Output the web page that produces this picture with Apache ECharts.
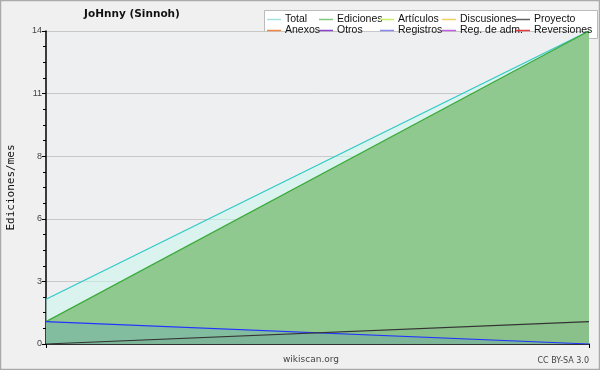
<!DOCTYPE html>
<html>
<head>
<meta charset="utf-8">
<script src="https://cdn.jsdelivr.net/npm/echarts@6/dist/echarts.min.js"></script>
<style>
html, body { margin: 0; padding: 0; }
#chart { width: 600px; height: 370px; }
</style>
</head>
<body>
<div id="chart"></div>
<script>
// meses (sin etiqueta en el eje)
var months = ['Mes 1', 'Mes 2'];
// ediciones por mes
var total = [2, 14];
var ediciones = [1, 14];
var registros = [1, 0];
var proyecto = [0, 1];
var yTicks = [0, 3, 6, 8, 11, 14];

var names = ['Total', 'Ediciones', 'Artículos', 'Discusiones', 'Proyecto',
             'Anexos', 'Otros', 'Registros', 'Reg. de adm.', 'Reversiones'];
var legendColors = ['#a4e2de', '#80c880', '#c8ee66', '#f0d060', '#606060',
                    '#f08848', '#8844cc', '#8888ee', '#c060dd', '#e03a3a'];

var chart = echarts.init(document.getElementById('chart'));

function legendCol(i, left) {
	return {
		orient: 'vertical',
		left: left,
		top: 14,
		padding: 0,
		itemWidth: 14,
		itemHeight: 1.5,
		itemGap: 0,
		icon: 'rect',
		selectedMode: false,
		textStyle: { fontSize: 10.5, lineHeight: 10.5, height: 10.5, color: '#111', fontFamily: 'Liberation Sans', padding: [0, 0, 0, -1] },
		data: [
			{ name: names[i], itemStyle: { color: legendColors[i] } },
			{ name: names[i + 5], itemStyle: { color: legendColors[i + 5] } }
		]
	};
}

var series = [{
		name: 'Total',
		type: 'line',
		data: total,
		showSymbol: false,
		itemStyle: { color: legendColors[0] },
		lineStyle: { color: '#30c8c8', width: 1.2 },
		areaStyle: { color: 'rgba(202,245,235,0.55)', opacity: 1 },
		z: 2
	}, {
		name: 'Ediciones',
		type: 'line',
		data: ediciones,
		showSymbol: false,
		itemStyle: { color: legendColors[1] },
		lineStyle: { color: '#3aaa3a', width: 1.2 },
		areaStyle: { color: '#90c990', opacity: 1 },
		z: 3
	}, {
		name: 'Registros',
		type: 'line',
		data: registros,
		showSymbol: false,
		itemStyle: { color: legendColors[7] },
		lineStyle: { color: '#2233ff', width: 1.2 },
		areaStyle: { color: 'rgba(60,120,255,0.15)', opacity: 1 },
		z: 4
	}, {
		name: 'Proyecto',
		type: 'line',
		data: proyecto,
		showSymbol: false,
		itemStyle: { color: legendColors[4] },
		lineStyle: { color: '#333333', width: 1.2 },
		areaStyle: { color: 'rgba(0,0,0,0.04)', opacity: 1 },
		z: 4
	}];
// series sin datos, solo para la leyenda
names.forEach(function (n, i) {
	if (['Total', 'Ediciones', 'Registros', 'Proyecto'].indexOf(n) < 0) {
		series.push({ name: n, type: 'line', data: [], itemStyle: { color: legendColors[i] } });
	}
});

var option = {
	backgroundColor: '#f0f0f0',
	animation: false,
	title: {
		text: 'JoHnny (Sinnoh)',
		left: 132,
		textAlign: 'center',
		top: 9,
		padding: 0,
		textStyle: { fontSize: 10.5, fontWeight: 'bold', color: '#111', fontFamily: 'DejaVu Sans' }
	},
	legend: [legendCol(0, 267), legendCol(1, 319), legendCol(2, 380), legendCol(3, 442), legendCol(4, 516)],
	grid: {
		left: 46,
		right: 11,
		top: 31,
		bottom: 26,
		outerBoundsMode: 'none',
		containLabel: false,
		show: true,
		backgroundColor: '#eeeff1',
		borderWidth: 0
	},
	xAxis: {
		type: 'category',
		data: months,
		boundaryGap: false,
		axisLine: { lineStyle: { color: '#000', width: 1.5 } },
		axisTick: { show: true, length: 4, lineStyle: { color: '#000' } },
		axisLabel: { show: false },
		splitLine: { show: false }
	},
	yAxis: {
		type: 'value',
		min: 0,
		max: 14,
		interval: 2.8,
		name: 'Ediciones/mes',
		nameLocation: 'middle',
		nameGap: 29,
		nameTextStyle: { fontFamily: 'DejaVu Sans Mono', fontSize: 11, color: '#111' },
		axisLine: { show: true, lineStyle: { color: '#000', width: 1.5 } },
		axisTick: { show: true, length: 4, lineStyle: { color: '#000' } },
		minorTick: { show: true, splitNumber: 4, length: 3, lineStyle: { color: '#000' } },
		axisLabel: {
			fontSize: 9,
			color: '#444',
			margin: 4,
			formatter: function (v) { return yTicks[Math.round(v / 2.8)]; }
		},
		splitLine: { lineStyle: { color: '#c8c8c8' } }
	},
	graphic: [{
		type: 'rect',
		shape: { x: 0.5, y: 0.5, width: 599, height: 369 },
		style: { fill: 'none', stroke: '#aaaaaa', lineWidth: 1.5 },
		z: -1
	}, {
		type: 'rect',
		shape: { x: 264.5, y: 10.5, width: 333, height: 28 },
		style: { fill: '#ffffff', stroke: '#bbbbbb', lineWidth: 1 },
		z: -1
	}, {
		type: 'text',
		x: 311, y: 360,
		style: { text: 'wikiscan.org', fontSize: 9, fill: '#444', align: 'center', verticalAlign: 'middle', fontFamily: 'DejaVu Sans' }
	}, {
		type: 'text',
		x: 589, y: 361,
		style: { text: 'CC BY-SA 3.0', fontSize: 8, fill: '#444', align: 'right', verticalAlign: 'middle', fontFamily: 'DejaVu Sans' }
	}],
	series: series
};

chart.setOption(option);
</script>
</body>
</html>
